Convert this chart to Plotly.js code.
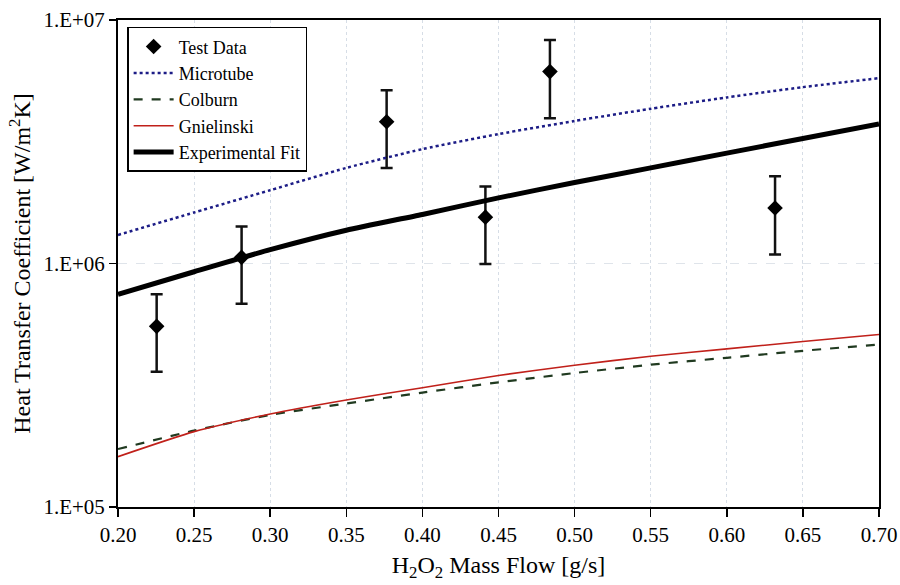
<!DOCTYPE html>
<html>
<head>
<meta charset="utf-8">
<script src="https://cdn.plot.ly/plotly-3.0.1.min.js"></script>
<style>html,body{margin:0;padding:0;background:#fff;}#chart{width:900px;height:585px;}</style>
</head>
<body>
<div id="chart"></div>
<script>
// Test data (H2O2 mass flow g/s, heat transfer coefficient W/m2K)
const testX     = [0.2254, 0.2812, 0.3765, 0.4414, 0.4838, 0.6317];
const testY     = [5.52e5, 1.06e6, 3.82e6, 1.55e6, 6.14e6, 1.69e6];
const testUpper = [7.47e5, 1.42e6, 5.15e6, 2.07e6, 8.28e6, 2.28e6];
const testLower = [3.59e5, 6.84e5, 2.47e6, 0.996e6, 3.95e6, 1.09e6];

// Model curves
const curveX      = [0.20, 0.25, 0.30, 0.35, 0.40, 0.45, 0.50, 0.55, 0.60, 0.65, 0.70];
const microtube   = [1.31e6, 1.62e6, 2.00e6, 2.47e6, 2.95e6, 3.40e6, 3.85e6, 4.32e6, 4.81e6, 5.30e6, 5.77e6];
const colburn     = [1.73e5, 2.06e5, 2.39e5, 2.66e5, 2.95e5, 3.25e5, 3.55e5, 3.84e5, 4.10e5, 4.38e5, 4.65e5];
const gnielinski  = [1.61e5, 2.04e5, 2.41e5, 2.75e5, 3.09e5, 3.47e5, 3.82e5, 4.16e5, 4.46e5, 4.78e5, 5.11e5];
const expFit      = [7.47e5, 9.25e5, 1.14e6, 1.37e6, 1.59e6, 1.86e6, 2.15e6, 2.47e6, 2.84e6, 3.26e6, 3.74e6];

// Axis ticks
const xTicks = [0.20, 0.25, 0.30, 0.35, 0.40, 0.45, 0.50, 0.55, 0.60, 0.65, 0.70];
const xTickText = ["0.20","0.25","0.30","0.35","0.40","0.45","0.50","0.55","0.60","0.65","0.70"];
const yTicks = [1e5, 1e6, 1e7];
const yTickText = ["1.E+05", "1.E+06", "1.E+07"];

const FONT = "'Liberation Serif', 'DejaVu Serif', serif";

const traces = [
  {
    name: "Test Data", x: testX, y: testY, type: "scatter", mode: "markers",
    marker: {symbol: "diamond", size: 12, color: "#000"},
    error_y: {
      type: "data", symmetric: false,
      array: testY.map((v, i) => testUpper[i] - v),
      arrayminus: testY.map((v, i) => v - testLower[i]),
      color: "#111", thickness: 2.5, width: 6
    }
  },
  {
    name: "Microtube", x: curveX, y: microtube, type: "scatter", mode: "lines",
    line: {color: "#1c1c86", width: 2.5, dash: "dot", shape: "spline", smoothing: 0.6}
  },
  {
    name: "Colburn", x: curveX, y: colburn, type: "scatter", mode: "lines",
    line: {color: "#203a20", width: 2.2, dash: "dash", shape: "spline", smoothing: 0.6}
  },
  {
    name: "Gnielinski", x: curveX, y: gnielinski, type: "scatter", mode: "lines",
    line: {color: "#c0201a", width: 1.6, shape: "spline", smoothing: 0.6}
  },
  {
    name: "Experimental Fit", x: curveX, y: expFit, type: "scatter", mode: "lines",
    line: {color: "#000", width: 5, shape: "spline", smoothing: 0.6}
  }
];

const layout = {
  width: 900, height: 585,
  margin: {l: 118, r: 21, t: 20, b: 78},
  paper_bgcolor: "#fff", plot_bgcolor: "#fff",
  font: {family: FONT, size: 18, color: "#000"},
  showlegend: true,
  legend: {
    x: 0.012, y: 0.986, xanchor: "left", yanchor: "top",
    bgcolor: "#fff", bordercolor: "#000", borderwidth: 1.5,
    font: {family: FONT, size: 18, color: "#000"},
    tracegroupgap: 0, itemwidth: 40
  },
  xaxis: {
    range: [0.2, 0.7], tickvals: xTicks, ticktext: xTickText,
    ticks: "outside", ticklen: 8, tickwidth: 1.5, tickcolor: "#000",
    showline: true, linecolor: "#000", linewidth: 2, mirror: true,
    showgrid: true, gridcolor: "#d6dde6", griddash: "dot", gridwidth: 1,
    zeroline: false,
    tickfont: {family: FONT, size: 21, color: "#000"},
    title: {text: "H<sub>2</sub>O<sub>2</sub> Mass Flow [g/s]", font: {family: FONT, size: 24, color: "#000"}, standoff: 10}
  },
  yaxis: {
    type: "log", range: [5, 7], tickvals: yTicks, ticktext: yTickText,
    ticks: "outside", ticklen: 7, tickwidth: 1.5, tickcolor: "#000",
    showline: true, linecolor: "#000", linewidth: 2, mirror: true,
    showgrid: true, gridcolor: "#dfe4ea", griddash: "dash", gridwidth: 1,
    zeroline: false,
    tickfont: {family: FONT, size: 21, color: "#000"},
    title: {text: "Heat Transfer Coefficient [W/m<sup>2</sup>K]", font: {family: FONT, size: 24, color: "#000"}, standoff: 6}
  }
};

Plotly.newPlot("chart", traces, layout, {displayModeBar: false, staticPlot: true});
</script>
</body>
</html>
